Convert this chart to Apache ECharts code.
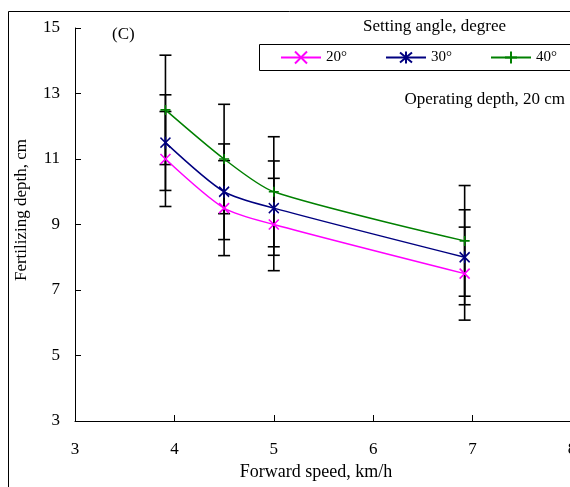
<!DOCTYPE html>
<html>
<head>
<meta charset="utf-8">
<script src="https://cdn.jsdelivr.net/npm/echarts@6/dist/echarts.min.js"></script>
<style>
  html, body { margin: 0; padding: 0; background: #fff; }
  #chart { width: 570px; height: 487px; }
</style>
</head>
<body>
<div id="chart"></div>
<script>
// forward speed, km/h
const speeds = [3.91, 4.5, 5.0, 6.92];
// mean fertilizing depth per setting angle
const depth20 = [11.0, 9.5, 9.0, 7.5];
const depth30 = [11.5, 10.0, 9.5, 8.0];
const depth40 = [12.5, 11.0, 10.0, 8.5];
// error bar half widths
const err20 = [1.45, 1.45, 1.41, 1.42];
const err30 = [1.46, 1.46, 1.44, 1.45];
const err40 = [1.67, 1.67, 1.68, 1.69];
const xTicks = [3, 4, 5, 6, 7, 8];
const yTicks = [3, 5, 7, 9, 11, 13, 15];

const names = ["20°", "30°", "40°"];
const colors = ["#FF00FF", "#000080", "#008000"];
const symbols = [
  "path://M0,0L10,10M10,0L0,10",
  "path://M0,0L10,10M10,0L0,10M5,-1L5,11",
  "path://M5,0L5,10M0,5L10,5"
];
const serif = "'Liberation Serif', 'Times New Roman', serif";

let chart = echarts.init(document.getElementById("chart"));

function pairs(ys) {
  return speeds.map((x, i) => [x, ys[i]]);
}

// error bars: [x, low, high]
let errData = [];
[[depth20, err20], [depth30, err30], [depth40, err40]].forEach(function(s) {
  for (var i = 0; i < speeds.length; i++) {
    errData.push([speeds[i], s[0][i] - s[1][i], s[0][i] + s[1][i]]);
  }
});

let lineSeries = [depth20, depth30, depth40].map(function(ys, k) {
  return {
    name: names[k],
    type: "line",
    data: pairs(ys),
    smooth: 0.25,
    symbol: symbols[k],
    symbolSize: k === 1 ? [10, 12] : 10,
    z: 5,
    lineStyle: { color: colors[k], width: 1.5 },
    itemStyle: { color: colors[k], borderColor: colors[k], borderWidth: 1.6 }
  };
});

let option = {
  animation: false,
  textStyle: { fontFamily: serif },
  grid: { left: 75, top: 28, width: 497, height: 393, outerBoundsMode: "none" },
  graphic: [
    {
      type: "rect",
      shape: { x: 8.5, y: 11.5, width: 700, height: 700 },
      style: { fill: "none", stroke: "#000", lineWidth: 1 },
      silent: true
    },
    {
      type: "rect",
      shape: { x: 259.5, y: 44.5, width: 400, height: 26 },
      style: { fill: "#fff", stroke: "#000", lineWidth: 1 },
      z: 1,
      silent: true
    },
    {
      type: "text",
      left: 363, top: 18,
      style: { text: "Setting angle, degree", font: "17px " + serif, fill: "#000" }
    },
    {
      type: "text",
      right: 5, top: 91,
      style: { text: "Operating depth, 20 cm", font: "17px " + serif, fill: "#000" }
    },
    {
      type: "text",
      left: 112, top: 26,
      style: { text: "(C)", font: "17px " + serif, fill: "#000" }
    },
    {
      type: "text",
      x: 22, y: 210,
      rotation: Math.PI / 2,
      style: { text: "Fertilizing depth, cm", font: "17px " + serif, fill: "#000",
        align: "center", verticalAlign: "middle" }
    },
    {
      type: "text",
      x: 316, y: 472,
      style: { text: "Forward speed, km/h", font: "18px " + serif, fill: "#000",
        align: "center", verticalAlign: "middle" }
    }
  ],
  legend: {
    data: names,
    left: 280,
    top: 50,
    padding: 0,
    itemWidth: 40,
    itemHeight: 15,
    itemGap: 38,
    z: 10,
    textStyle: { fontFamily: serif, fontSize: 15, color: "#000" }
  },
  xAxis: {
    type: "value",
    min: 3,
    max: 8,
    interval: 1,
    axisLine: { lineStyle: { color: "#000", width: 1 } },
    axisTick: { inside: true, length: 6, lineStyle: { color: "#000" } },
    axisLabel: { color: "#000", fontSize: 17, margin: 20, fontFamily: serif,
      formatter: v => xTicks.indexOf(v) >= 0 ? String(v) : "" },
    splitLine: { show: false }
  },
  yAxis: {
    type: "value",
    min: 3,
    max: 15,
    interval: 2,
    axisLine: { show: true, lineStyle: { color: "#000", width: 1 } },
    axisTick: { show: true, inside: true, length: 6, lineStyle: { color: "#000" } },
    axisLabel: { color: "#000", fontSize: 17, margin: 15, fontFamily: serif,
      formatter: v => yTicks.indexOf(v) >= 0 ? String(v) : "" },
    splitLine: { show: false }
  },
  series: [
    {
      name: "error",
      type: "custom",
      data: errData,
      z: 3,
      renderItem: function(params, api) {
        let x = api.value(0);
        let lo = api.coord([x, api.value(1)]);
        let hi = api.coord([x, api.value(2)]);
        let w = 6;
        let st = { stroke: "#000", lineWidth: 1.6 };
        return {
          type: "group",
          children: [
            { type: "line", shape: { x1: lo[0], y1: lo[1], x2: hi[0], y2: hi[1] }, style: st },
            { type: "line", shape: { x1: lo[0] - w, y1: lo[1], x2: lo[0] + w, y2: lo[1] }, style: st },
            { type: "line", shape: { x1: hi[0] - w, y1: hi[1], x2: hi[0] + w, y2: hi[1] }, style: st }
          ]
        };
      }
    }
  ].concat(lineSeries)
};

chart.setOption(option);
</script>
</body>
</html>
